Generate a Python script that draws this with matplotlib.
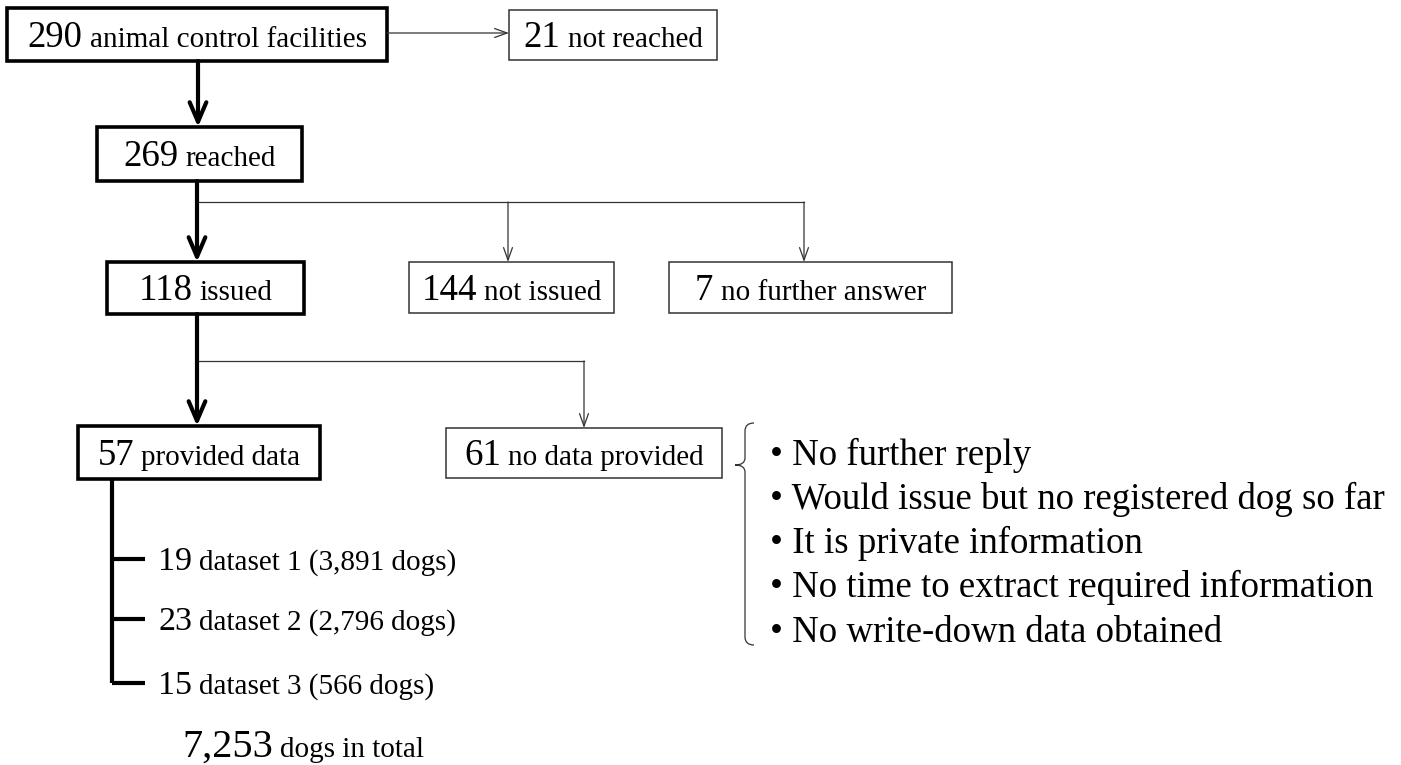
import matplotlib
matplotlib.use('Agg')
import matplotlib.pyplot as plt
from matplotlib.patches import Rectangle, PathPatch
from matplotlib.path import Path

plt.rcParams['font.family'] = ['Liberation Serif', 'DejaVu Serif']

# flowchart content
box_counts = ['290', '21', '269', '118', '144', '7', '57', '61']
box_words = ['animal control facilities', 'not reached', 'reached', 'issued',
             'not issued', 'no further answer', 'provided data', 'no data provided']
box_thick = [True, False, True, True, False, False, True, False]

dataset_counts = ['19', '23', '15']
dataset_names = ['dataset 1', 'dataset 2', 'dataset 3']
dataset_dogs = ['3,891', '2,796', '566']
total_dogs = '7,253'

reasons = ['No further reply',
           'Would issue but no registered dog so far',
           'It is private information',
           'No time to extract required information',
           'No write-down data obtained']

# layout in pixels (x0, x1, y0, y1), same order as the boxes above
box_xy = [(7, 387, 8, 61), (509, 717, 10, 60), (97, 302, 127, 181),
          (107, 304, 262, 314), (409, 614, 262, 313), (669, 952, 262, 313),
          (78, 320, 426, 479), (446, 722, 428, 478)]

W, H = 1401, 765
DPI = 100
fig = plt.figure(figsize=(W / DPI, H / DPI), dpi=DPI)
ax = fig.add_axes([0, 0, 1, 1])
ax.set_xlim(0, W)
ax.set_ylim(H, 0)
ax.axis('off')
renderer = fig.canvas.get_renderer()

NUM_FS = 26.5
TXT_FS = 21
px = DPI / 72.0


def mixed(x, y, parts, center=False):
    # parts: list of (string, fontsize); drawn on one baseline
    arts = []
    widths = []
    for s, fs in parts:
        t = ax.text(0, y, s, fontsize=fs, va='baseline', ha='left', color='black')
        widths.append(t.get_window_extent(renderer).width)
        arts.append(t)
    gaps = [0.25 * parts[i + 1][1] * px for i in range(len(parts) - 1)]
    total = sum(widths) + sum(gaps)
    cur = x - total / 2 if center else x
    for i, t in enumerate(arts):
        t.set_x(cur)
        cur += widths[i] + (gaps[i] if i < len(gaps) else 0)


for (x0, x1, y0, y1), n, w, thick in zip(box_xy, box_counts, box_words, box_thick):
    ax.add_patch(Rectangle((x0, y0), x1 - x0, y1 - y0, fill=False,
                           lw=2.6 if thick else 1.1,
                           ec='black' if thick else '#333333'))
    mixed((x0 + x1) / 2, (y0 + y1) / 2 + 12, [(n, NUM_FS), (w, TXT_FS)], center=True)

thick_arrow = dict(arrowstyle='->,head_length=0.7,head_width=0.3', lw=3,
                   color='black', shrinkA=0, shrinkB=0, mutation_scale=20)
thin_arrow = dict(arrowstyle='->,head_length=0.45,head_width=0.16', lw=0.9,
                  color='#333333', shrinkA=0, shrinkB=0, mutation_scale=20)


def arrow(x0, y0, x1, y1, style):
    ax.annotate('', xy=(x1, y1), xytext=(x0, y0), arrowprops=style)


# main trunk
arrow(198, 61, 198, 127, thick_arrow)
arrow(197, 181, 197, 262, thick_arrow)
arrow(197, 314, 197, 426, thick_arrow)
arrow(387, 33, 509, 33, thin_arrow)

# branches
ax.plot([197, 804], [202, 202], color='#333333', lw=0.9)
arrow(508, 202, 508, 262, thin_arrow)
arrow(804, 202, 804, 262, thin_arrow)
ax.plot([197, 584], [361, 361], color='#333333', lw=0.9)
arrow(584, 361, 584, 428, thin_arrow)

# datasets
tick_y = [559, 619, 683]
ax.plot([112, 112], [479, tick_y[-1]], color='black', lw=3, solid_capstyle='butt')
for ty, c, nm, d in zip(tick_y, dataset_counts, dataset_names, dataset_dogs):
    ax.plot([112, 145], [ty, ty], color='black', lw=3, solid_capstyle='butt')
    mixed(158, ty + 11, [(c, 24.5), (nm + ' (' + d + ' dogs)', TXT_FS)])

mixed(182, 757, [(total_dogs, 29), ('dogs in total', TXT_FS)])

# brace next to "no data provided"
bx, tip, top, bot, tipy = 745, 735, 423, 645, 465
verts = [(bx + 9, top), (bx, top), (bx, top + 8), (bx, tipy - 7), (bx, tipy), (tip, tipy),
         (bx, tipy), (bx, tipy + 7), (bx, bot - 8), (bx, bot), (bx + 9, bot)]
codes = [Path.MOVETO, Path.CURVE3, Path.CURVE3, Path.LINETO, Path.CURVE3, Path.CURVE3,
         Path.CURVE3, Path.CURVE3, Path.LINETO, Path.CURVE3, Path.CURVE3]
ax.add_patch(PathPatch(Path(verts, codes), fill=False, lw=0.9, ec='#333333'))

reason_y = [465, 509, 553, 597, 642]
for ry, r in zip(reason_y, reasons):
    ax.text(770, ry, '\u2022 ' + r, fontsize=26.5, va='baseline', ha='left', color='black')

fig.savefig('out.png', dpi=DPI, facecolor='white')
